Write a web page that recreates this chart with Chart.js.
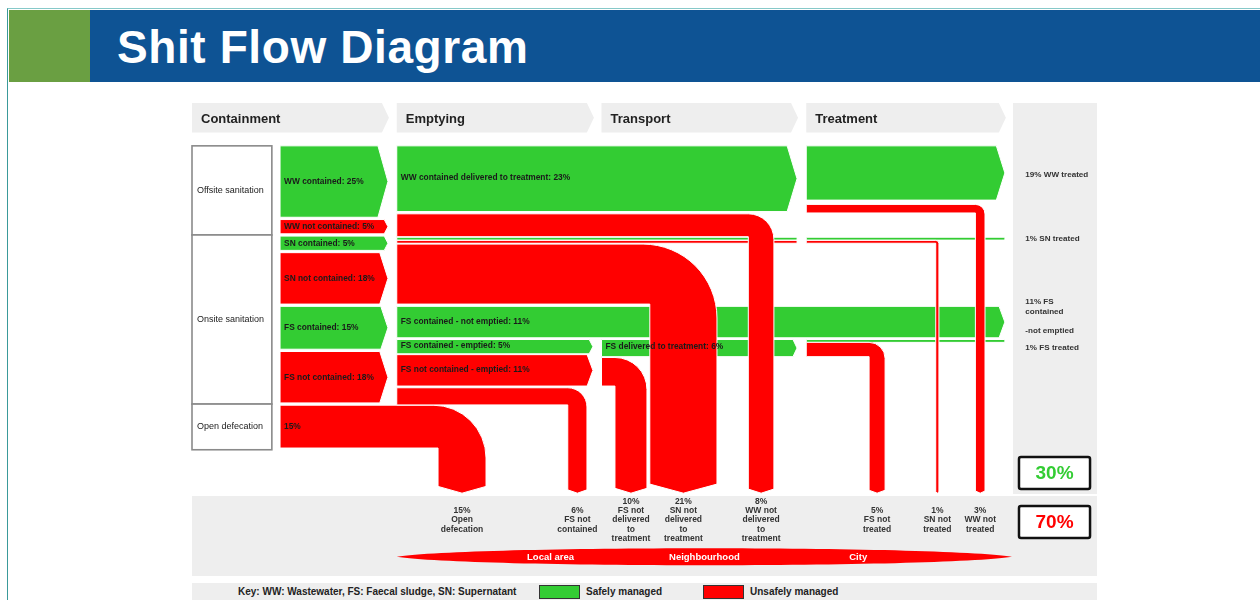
<!DOCTYPE html>
<html>
<head>
<meta charset="utf-8">
<title>Shit Flow Diagram</title>
<script src="https://cdn.jsdelivr.net/npm/chart.js@4.4.1/dist/chart.umd.min.js"></script>
<style>
  html, body { margin: 0; padding: 0; width: 1260px; height: 600px; overflow: hidden; background: #fff; }
  body { font-family: 'Liberation Sans', Arial, Helvetica, sans-serif; }
  #page { position: relative; width: 1260px; height: 600px; }
  #frame { position: absolute; left: 7px; top: 8px; width: 1253px; height: 592px; border-left: 1px solid #3a9a9a; border-top: 1px solid #86c9c9; box-sizing: border-box; }
  #banner { position: absolute; left: 9px; top: 10px; width: 1251px; height: 72px; background: #0e5394; }
  #banner .tab { position: absolute; left: 0; top: 0; width: 81px; height: 72px; background: #6a9f42; }
  #banner h1 { position: absolute; left: 108px; top: 14px; margin: 0; font: bold 46px/46px 'Liberation Sans', Arial, sans-serif; letter-spacing: 0.6px; color: #fff; white-space: nowrap; }
  #sfd { position: absolute; left: 0; top: 0; }
  #key { position: absolute; left: 192px; top: 583px; width: 905px; height: 17px; background: #eeeeee; font: bold 10px/17px 'Liberation Sans', Arial, sans-serif; color: #222; }
  #key span { position: absolute; top: 0; white-space: nowrap; }
  #key i { position: absolute; top: 2px; height: 14px; border: 1px solid #333; box-sizing: border-box; }
</style>
</head>
<body>
<div id="page">
  <div id="frame"></div>
  <canvas id="sfd" width="1260" height="600"></canvas>
  <div id="banner"><div class="tab"></div><h1>Shit Flow Diagram</h1></div>
  <div id="key"></div>
</div>
<script>
// ---- data ----
const stageLabels = ['Containment', 'Emptying', 'Transport', 'Treatment'];
const systemLabels = ['Offsite sanitation', 'Onsite sanitation', 'Open defecation'];
const systemRows = [2, 4, 1];

const containNames = ['WW contained', 'WW not contained', 'SN contained', 'SN not contained', 'FS contained', 'FS not contained', ''];
const containValues = [25, 5, 5, 18, 15, 18, 15];
const containSafe = [1, 0, 1, 0, 1, 0, 0];

const emptyNames = ['WW contained delivered to treatment', '', '', '', '', 'FS contained - not emptied', 'FS contained - emptied', 'FS not contained - emptied', ''];
const emptyValues = [23, 8, 1, 1, 21, 11, 5, 11, 6];
const emptySafe = [1, 0, 1, 0, 0, 1, 1, 0, 0];

const transportNames = ['FS delivered to treatment', ''];
const transportValues = [6, 10];

const treatValues = [19, 3, 1, 5];
const treatedLabels = [['19% WW treated'], ['1% SN treated'], ['11% FS', 'contained', '', '-not emptied'], ['1% FS treated']];

const outcomeNames = [['Open', 'defecation'], ['FS not', 'contained'], ['FS not', 'delivered', 'to', 'treatment'],
  ['SN not', 'delivered', 'to', 'treatment'], ['WW not', 'delivered', 'to', 'treatment'],
  ['FS not', 'treated'], ['SN not', 'treated'], ['WW not', 'treated']];
const outcomeValues = [15, 6, 10, 21, 8, 5, 1, 3];

const areaLabels = ['Local area', 'Neighbourhood', 'City'];
const managedLabels = ['Safely managed', 'Unsafely managed'];
const managedValues = [30, 70];
const keyText = 'Key: WW: Wastewater, FS: Faecal sludge, SN: Supernatant';

// ---- layout: x in stage units (0 = Containment, 1 = Emptying, ...), y in % of population, top down ----
const stageTip = [0.957, 1.958, 2.955, 3.97];
const boxRight = 0.39, flowLeft = 0.43, sideLeft = 4.01, sideRight = 4.42;
const containGaps = [0.8, 0.8, 0.8, 0.8, 0.8, 0.8, 0];
const emptyGaps = [0.8, 0.2, 0.1, 0.3, 0.8, 0.6, 0.3, 0.6, 0];
const outcomeTurn = [1.436, 1.929, 2.222, 2.564, 2.842, 3.385, 3.648, 3.873];
const arrowTip = 121.6;
const vStretch = 1.12;
const GREEN = '#33CC33', RED = '#FF0000', PANEL = '#EEEEEE';
const FONT = "'Liberation Sans', Arial, Helvetica, sans-serif";

function stackTops(values, gaps) {
  let y = 0;
  return values.map((v, i) => { const t = y; y += v + gaps[i]; return t; });
}

const cTop = stackTops(containValues, containGaps);
const eTop = stackTops(emptyValues, emptyGaps);
const tTop = [eTop[6], eTop[7] + emptyValues[7] - transportValues[1]];
const rTop = [0, treatValues[0] + 1.5, tTop[0], tTop[0] + treatValues[2]];

// straight bands (with or without arrow head) and bends that turn down to an outcome
const bands = [];
const bends = [];
const texts = [];
containValues.forEach((v, i) => {
  if (i < 6) bands.push({ x0: flowLeft, x1: stageTip[0], top: cTop[i], v, safe: containSafe[i], tip: true });
  texts.push({ s: containNames[i] ? containNames[i] + ': ' + v + '%' : v + '%', x: flowLeft, y: cTop[i] + v / 2 });
});
bends.push({ x0: flowLeft, top: cTop[6], k: 0 });

bands.push({ x0: 1, x1: stageTip[2], top: eTop[0], v: emptyValues[0], safe: 1, tip: true });
bends.push({ x0: 1, top: eTop[1], k: 4 });
bands.push({ x0: 1, x1: stageTip[2], top: eTop[2], v: emptyValues[2], safe: 1, tip: false });
bands.push({ x0: 3, x1: stageTip[3], top: eTop[2], v: emptyValues[2], safe: 1, tip: false });
bands.push({ x0: 1, x1: stageTip[2], top: eTop[3], v: emptyValues[3], safe: 0, tip: false });
bends.push({ x0: 3, top: eTop[3], k: 6 });
bends.push({ x0: 1, top: eTop[4], k: 3 });
bands.push({ x0: 1, x1: stageTip[3], top: eTop[5], v: emptyValues[5], safe: 1, tip: true });
bands.push({ x0: 1, x1: stageTip[1], top: eTop[6], v: emptyValues[6], safe: 1, tip: true });
bands.push({ x0: 1, x1: stageTip[1], top: eTop[7], v: emptyValues[7], safe: 0, tip: true });
bends.push({ x0: 1, top: eTop[8], k: 1 });
emptyValues.forEach((v, i) => {
  if (emptyNames[i]) texts.push({ s: emptyNames[i] + ': ' + v + '%', x: 1, y: eTop[i] + v / 2 - 0.3 });
});

bands.push({ x0: 2, x1: stageTip[2], top: tTop[0], v: transportValues[0], safe: 1, tip: true });
bends.push({ x0: 2, top: tTop[1], k: 2 });
texts.push({ s: transportNames[0] + ': ' + transportValues[0] + '%', x: 2, y: tTop[0] + transportValues[0] / 2 - 0.5 });

bands.push({ x0: 3, x1: stageTip[3], top: rTop[0], v: treatValues[0], safe: 1, tip: true });
bends.push({ x0: 3, top: rTop[1], k: 7 });
bands.push({ x0: 3, x1: stageTip[3], top: rTop[2], v: treatValues[2], safe: 1, tip: false });
bends.push({ x0: 3, top: rTop[3], k: 5 });

const treatedY = [rTop[0] + treatValues[0] / 2 + 0.7, eTop[2] + emptyValues[2] / 2, eTop[5] + 3.5, tTop[0] + transportValues[0] / 2];

const diagram = {
  id: 'diagram',
  afterDraw(chart) {
    const ctx = chart.ctx;
    const X = u => chart.scales.x.getPixelForValue(u);
    const Y = v => chart.scales.y.getPixelForValue(v);
    const T = v => Math.abs(Y(v) - Y(0));

    function label(lines, x, yc, font, color, align, lh) {
      ctx.font = font; ctx.fillStyle = color; ctx.textAlign = align; ctx.textBaseline = 'middle';
      lines.forEach((l, i) => ctx.fillText(l, x, yc + (i - (lines.length - 1) / 2) * lh));
    }
    function finish(color) {
      ctx.fillStyle = color; ctx.fill();
      ctx.strokeStyle = '#fff'; ctx.lineWidth = 1; ctx.stroke();
    }
    function drawBand(b) {
      const x0 = X(b.x0), x1 = X(b.x1), y0 = Y(b.top), h = T(b.v);
      const d = b.tip ? Math.min(10, 0.12 * h + 2) : 0;
      ctx.beginPath();
      ctx.moveTo(x0, y0); ctx.lineTo(x1 - d, y0); ctx.lineTo(x1, y0 + h / 2);
      ctx.lineTo(x1 - d, y0 + h); ctx.lineTo(x0, y0 + h); ctx.closePath();
      finish(b.safe ? GREEN : RED);
    }
    function drawBend(b) {
      const v = outcomeValues[b.k];
      const x0 = X(b.x0), xR = X(outcomeTurn[b.k]), y0 = Y(b.top), th = T(v), tv = th * vStretch, yEnd = Y(arrowTip);
      const r = tv > 40 ? tv * 1.1 : tv, tip = 0.12 * tv + 1, xL = xR - tv;
      ctx.beginPath();
      ctx.moveTo(x0, y0); ctx.lineTo(xR - r, y0);
      ctx.arc(xR - r, y0 + r, r, -Math.PI / 2, 0);
      ctx.lineTo(xR, yEnd - tip); ctx.lineTo(xR - tv / 2, yEnd); ctx.lineTo(xL, yEnd - tip);
      ctx.lineTo(xL, y0 + th); ctx.lineTo(x0, y0 + th); ctx.closePath();
      finish(RED);
    }

    ctx.save();
    // stage headers
    stageLabels.forEach((s, k) => {
      const x0 = X(k), x1 = X(stageTip[k]) + 1, y0 = Y(-15), y1 = Y(-4.7), ym = (y0 + y1) / 2;
      ctx.beginPath();
      ctx.moveTo(x0, y0); ctx.lineTo(x1 - 7, y0); ctx.lineTo(x1, ym); ctx.lineTo(x1 - 7, y1); ctx.lineTo(x0, y1); ctx.closePath();
      ctx.fillStyle = PANEL; ctx.fill();
      label([s], x0 + 9, ym + 2, 'bold 13px ' + FONT, '#222', 'left', 0);
    });
    // side and bottom panels
    ctx.fillStyle = PANEL;
    ctx.fillRect(X(sideLeft), Y(-15), X(sideRight) - X(sideLeft), Y(121.9) - Y(-15));
    ctx.fillRect(X(0), Y(122.6), X(sideRight) - X(0), Y(150.6) - Y(122.6));

    // sanitation system boxes
    let row = 0;
    systemLabels.forEach((s, i) => {
      const first = row, last = row + systemRows[i] - 1;
      row += systemRows[i];
      const top = first === 0 ? cTop[0] : cTop[first] - containGaps[first - 1] / 2;
      const bottom = cTop[last] + containValues[last] + (last < containValues.length - 1 ? containGaps[last] / 2 : 0.6);
      const x0 = X(0), x1 = X(boxRight), y0 = Y(top), y1 = Y(bottom);
      ctx.fillStyle = '#fff'; ctx.fillRect(x0, y0, x1 - x0, y1 - y0);
      ctx.strokeStyle = '#8a8a8a'; ctx.lineWidth = 1.6; ctx.strokeRect(x0, y0, x1 - x0, y1 - y0);
      label([s], x0 + 5, (y0 + y1) / 2, '9px ' + FONT, '#222', 'left', 0);
    });

    // flows: safe first, then unsafe lines/bands, then unsafe bends on top
    bands.filter(b => b.safe).forEach(drawBand);
    bands.filter(b => !b.safe).forEach(drawBand);
    bends.forEach(drawBend);

    texts.forEach(t => label([t.s], X(t.x) + 4, Y(t.y), 'bold 8.4px ' + FONT, '#1a1a1a', 'left', 0));

    // treated column
    treatedLabels.forEach((lines, i) => label(lines, X(4.07), Y(treatedY[i]), 'bold 8.1px ' + FONT, '#333', 'left', 9.6));

    // outcomes
    outcomeValues.forEach((v, k) => {
      const cx = X(outcomeTurn[k]) - T(v) * vStretch / 2;
      label([v + '%'].concat(outcomeNames[k]), cx, Y(131), 'bold 8.5px ' + FONT, '#333', 'center', 9.3);
    });

    // local area -> city spindle
    const sx0 = X(1), sx1 = X(4.005), sy = Y(143.9), hh = 8.5 / 0.75, L = sx1 - sx0;
    ctx.beginPath();
    ctx.moveTo(sx0, sy);
    ctx.bezierCurveTo(sx0 + 0.12 * L, sy - hh, sx1 - 0.12 * L, sy - hh, sx1, sy);
    ctx.bezierCurveTo(sx1 - 0.12 * L, sy + hh, sx0 + 0.12 * L, sy + hh, sx0, sy);
    ctx.closePath();
    ctx.fillStyle = RED; ctx.fill();
    areaLabels.forEach((a, i) => label([a], sx0 + L * (i + 1) / 4, sy + 0.5, 'bold 9.5px ' + FONT, '#fff', 'center', 0));

    // safely / unsafely managed totals
    const boxY = [[108.9, 120.1], [126.1, 137.3]];
    managedValues.forEach((v, i) => {
      const x0 = X(4.039), x1 = X(4.386), y0 = Y(boxY[i][0]), y1 = Y(boxY[i][1]);
      ctx.beginPath(); ctx.roundRect(x0, y0, x1 - x0, y1 - y0, 2);
      ctx.fillStyle = '#fff'; ctx.fill();
      ctx.lineWidth = 2.5; ctx.strokeStyle = '#111'; ctx.stroke();
      label([v + '%'], (x0 + x1) / 2, (y0 + y1) / 2 + 1, 'bold 19px ' + FONT, i ? RED : GREEN, 'center', 0);
    });
    ctx.restore();
  }
};

new Chart(document.getElementById('sfd'), {
  type: 'scatter',
  data: { datasets: [] },
  options: {
    responsive: false,
    animation: false,
    events: [],
    layout: { padding: { left: 192, right: 163, top: 103, bottom: 0 } },
    plugins: { legend: { display: false }, tooltip: { enabled: false }, title: { display: false } },
    scales: {
      x: { type: 'linear', min: 0, max: 4.42, display: false },
      y: { type: 'linear', min: -15, max: 159, reverse: true, display: false }
    }
  },
  plugins: [diagram]
});

// key strip
document.getElementById('key').innerHTML = '<span style="left:46px">' + keyText + '</span>' +
  managedLabels.map((m, i) =>
    '<i style="left:' + (347 + i * 164) + 'px;width:41px;background:' + (i ? RED : GREEN) + '"></i>' +
    '<span style="left:' + (394 + i * 164) + 'px">' + m + '</span>').join('');
</script>
</body>
</html>
